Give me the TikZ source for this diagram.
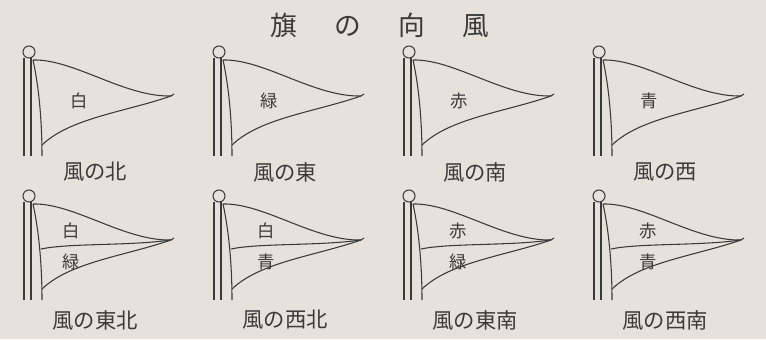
\documentclass[tikz,border=0pt]{standalone}
\usepackage{fontspec}
\newfontfamily\jp{Noto Sans CJK JP}
\definecolor{paper}{HTML}{E6E2DB}
\definecolor{ink}{HTML}{3A3A3A}

\tikzset{
  flagline/.style={draw=ink, line width=0.8pt},
  flagtext/.style={text=ink, inner sep=0pt, font=\jp\fontsize{13pt}{13pt}\selectfont},
  captext/.style={text=ink, inner sep=0pt, font=\jp\fontsize{16pt}{16pt}\selectfont},
  titletext/.style={text=ink, inner sep=0pt, font=\jp\fontsize{20pt}{20pt}\selectfont},
}

% pennant on its pole, ball centre at (#1,#2)
\newcommand{\pennant}[2]{
  \begin{scope}[shift={(#1,#2)}]
    \draw[flagline] (0,0) circle (6);
    \draw[flagline] (-5,6) -- (-5,104);
    \draw[flagline] (2,6) -- (2,104);
    \draw[flagline] (4,8) .. controls (10,35) and (13,70) .. (13,104);
    \draw[flagline] (4,8) .. controls (45,7) and (95,45) .. (142,44);
    \draw[flagline] (13,93) .. controls (41,66) and (96,60) .. (142,44);
    \draw[flagline] (142,44) -- (145,42);
  \end{scope}
}

\begin{document}
\begin{tikzpicture}[x=0.75pt, y=-0.75pt]
\fill[paper] (0,0) rectangle (766,339);

\node[titletext] (title) at (380,25) {旗\hspace{28pt}の\hspace{28pt}向\hspace{28pt}風};

% top row: one colour
\foreach \bx/\clr/\wind [count=\i] in {29/白/風の北, 219/緑/風の東, 409/赤/風の南, 599/青/風の西}
{
	\pennant{\bx}{52}
	\node[flagtext] (lab\i) at (\bx+50,101) {\clr};
	\node[captext] (cap\i) at (\bx+66,172) {\wind};
}

% bottom row: two colours
\foreach \bx/\dx/\clrA/\clrB/\wind [count=\i] in {29/42/白/緑/風の東北, 219/47/白/青/風の西北, 409/49/赤/緑/風の東南, 599/49/赤/青/風の西南}
{
	\pennant{\bx}{196}
	\draw[flagline] (\bx+12,249) .. controls (\bx+40,243) and (\bx+100,246) .. (\bx+142,240);
	\node[flagtext] (upr\i) at (\bx+\dx,231) {\clrA};
	\node[flagtext] (lwr\i) at (\bx+\dx,262) {\clrB};
	\node[captext] (wnd\i) at (\bx+66,320) {\wind};
}

\end{tikzpicture}
\end{document}
